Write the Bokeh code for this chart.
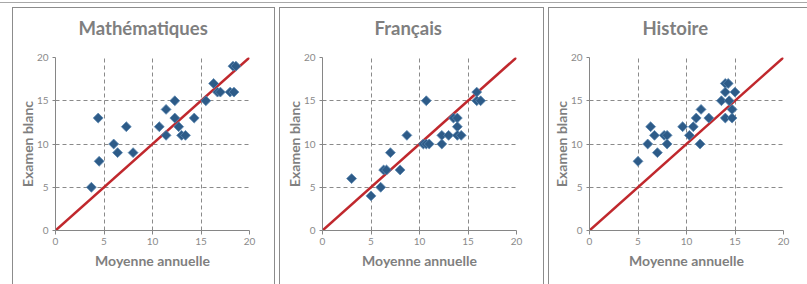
from bokeh.plotting import figure
from bokeh.layouts import row, column
from bokeh.models import Spacer, Range1d, FixedTicker, Title
from bokeh.embed import file_html
from bokeh.resources import INLINE

subjects = ["Mathématiques", "Français", "Histoire"]

math_x = [3.7, 4.4, 4.5, 6.0, 6.4, 7.3, 8.0, 10.7, 11.4, 11.4, 12.3, 12.3, 12.7, 13.0, 13.4, 14.3, 15.5, 16.3, 16.7, 17.0, 18.0, 18.4, 18.3, 18.6]
math_y = [5, 13, 8, 10, 9, 12, 9, 12, 14, 11, 15, 13, 12, 11, 11, 13, 15, 17, 16, 16, 16, 16, 19, 19]

fr_x = [3.0, 5.0, 6.0, 6.3, 6.6, 7.0, 8.0, 8.7, 10.7, 10.4, 10.7, 11.0, 12.3, 12.3, 13.0, 13.5, 13.9, 13.9, 13.9, 14.3, 15.9, 15.9, 16.3]
fr_y = [6, 4, 5, 7, 7, 9, 7, 11, 15, 10, 10, 10, 10, 11, 11, 13, 13, 12, 11, 11, 16, 15, 15]

hist_x = [5.0, 6.0, 6.3, 6.7, 7.0, 7.7, 8.0, 8.0, 9.6, 10.3, 10.7, 11.0, 11.5, 11.4, 12.3, 13.6, 14.0, 14.3, 14.0, 15.0, 14.4, 14.0, 14.7, 14.7]
hist_y = [8, 10, 12, 11, 9, 11, 11, 10, 12, 11, 12, 13, 14, 10, 13, 15, 17, 17, 16, 16, 15, 13, 13, 14]

diag_x = [0, 20]
diag_y = [0, 20]
ticks = [0, 5, 10, 15, 20]

x_label = "Moyenne annuelle"
y_label = "Examen blanc"

GREY = "#7f7f7f"
FONT = "Lato"
EDGE = "1px solid #8c8c8c"


def make(title, xs, ys, width, left, right, top, bottom, border_css, title_offset):
    p = figure(width=width, height=277, x_range=Range1d(0, 20), y_range=Range1d(0, 20),
               output_backend="svg", toolbar_location=None,
               min_border_left=left, min_border_right=right,
               min_border_top=top, min_border_bottom=bottom,
               styles=border_css)
    # spacer between plot area and chart title
    p.add_layout(Title(text=" ", text_font=FONT, text_font_size="14px", standoff=0), "above")
    p.add_layout(Title(text=title, align="left", offset=title_offset, vertical_align="bottom",
                       standoff=0, text_font=FONT, text_font_style="bold",
                       text_font_size="18.5px", text_color=GREY), "above")
    p.outline_line_color = None
    p.background_fill_color = "white"
    p.border_fill_color = "white"
    for ax in (p.xaxis[0], p.yaxis[0]):
        ax.ticker = FixedTicker(ticks=ticks)
        ax.axis_line_color = "#868686"
        ax.major_tick_line_color = "#868686"
        ax.major_tick_out = 3
        ax.major_tick_in = 0
        ax.minor_tick_line_color = None
        ax.major_label_text_font = FONT
        ax.major_label_text_font_size = "10px"
        ax.major_label_text_color = "#8a8a8a"
        ax.axis_label_text_font = FONT
        ax.axis_label_text_font_style = "bold"
        ax.axis_label_text_font_size = "14px"
        ax.axis_label_text_color = GREY
    p.xaxis.axis_label = x_label
    p.yaxis.axis_label = y_label
    p.xaxis.major_tick_out = 4
    p.xaxis.major_label_standoff = 3
    p.yaxis.major_label_standoff = 4
    p.xaxis.axis_label_standoff = 4
    p.yaxis.axis_label_standoff = -2
    for g in (p.xgrid[0], p.ygrid[0]):
        g.ticker = FixedTicker(ticks=ticks)
        g.grid_line_color = "#8a8a8a"
        g.grid_line_dash = "4 3"
        g.grid_line_width = 1
    p.line(diag_x, diag_y, line_color="#c0282d", line_width=2.5)
    p.scatter(xs, ys, marker="square", angle=0.785398, size=7,
              fill_color="#2d5b88", line_color="#5a86b0", line_width=0.8)
    return p


box = {"border-top": EDGE, "border-left": EDGE, "border-right": EDGE, "box-sizing": "border-box"}
box3 = {"border-top": EDGE, "border-left": EDGE, "box-sizing": "border-box"}

p1 = make(subjects[0], math_x, math_y, 263, 42, 27, 49, 54, box, 23)
p2 = make(subjects[1], fr_x, fr_y, 265, 42, 29, 49, 54, box, 52)
p3 = make(subjects[2], hist_x, hist_y, 259, 40, 25, 48, 55, box3, 53)

top_rule = Spacer(width=807, height=3,
                  styles={"border-bottom": "1px solid #a8a8a8", "box-sizing": "border-box"})
panels = row(Spacer(width=8, height=277), p1, p2, p3, spacing=4)
layout = column(top_rule, panels, spacing=4)
open("out.html", "w").write(file_html(layout, INLINE))
